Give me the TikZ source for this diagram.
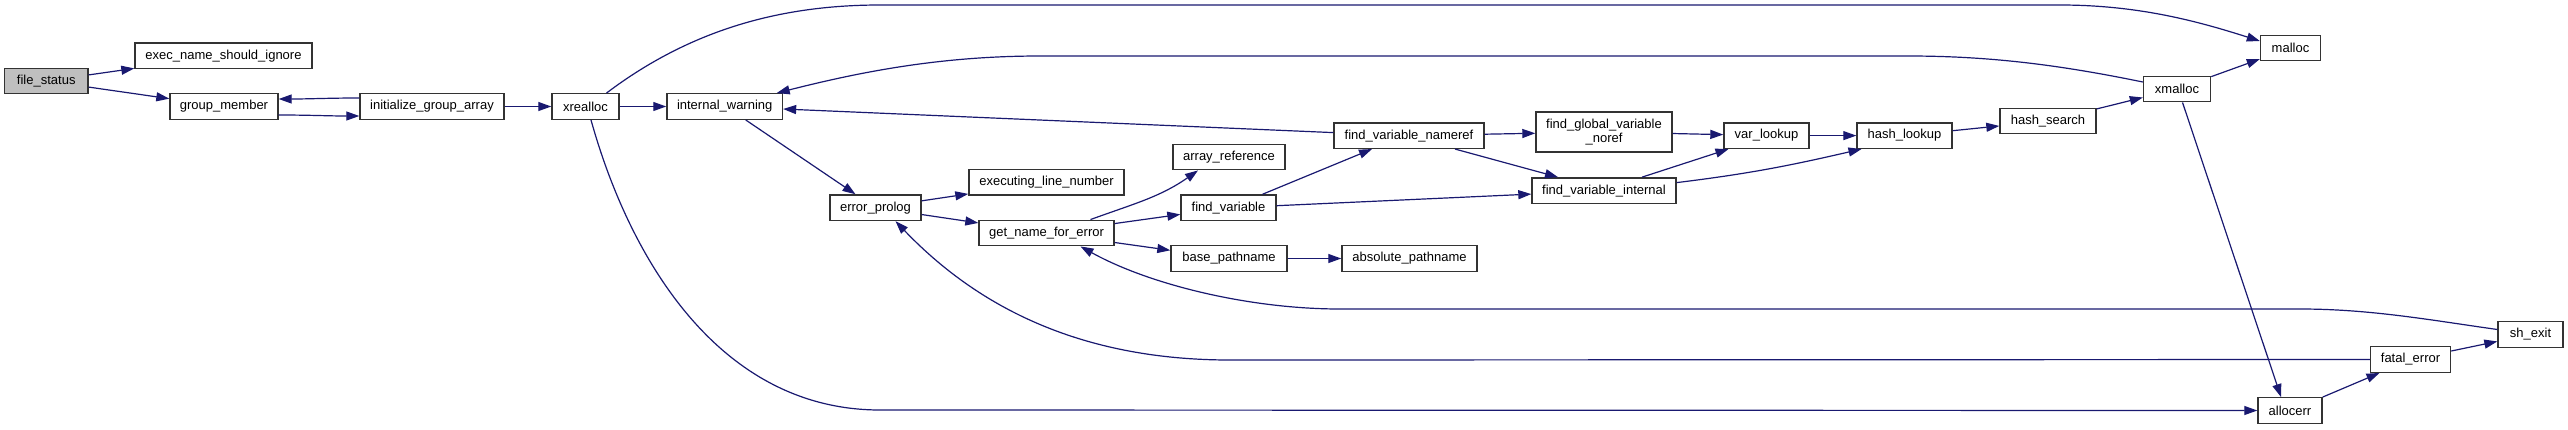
\documentclass[tikz,border=0pt]{standalone}
\usepackage{fontspec}
\setmainfont{Liberation Sans}
\usepackage{tikz}
\usetikzlibrary{arrows.meta, positioning, calc}
\definecolor{edgeblue}{HTML}{191970}
\definecolor{rootgray}{HTML}{BFBFBF}

\begin{document}
\begin{tikzpicture}[x=1pt, y=-1pt,
    fn/.style={draw=black!80, fill=white, line width=1.4pt,
               minimum height=25.5pt, inner sep=0pt,
               font=\fontsize{13}{14}\selectfont, align=center},
    call/.style={draw=edgeblue, line width=1.2pt,
                 -{Triangle[length=13pt, width=9pt]}}]
    \useasboundingbox (0,0) rectangle (2568,429);
    % functions
    \node[fn, fill=rootgray, minimum width=83.5pt] (filestatus) at (46.25,81) {file\_status};
    \node[fn, minimum width=177pt] (execname) at (223.5,55.7) {exec\_name\_should\_ignore};
    \node[fn, minimum width=108pt] (groupmember) at (224,106.5) {group\_member};
    \node[fn, minimum width=144pt] (initgroup) at (432,106.5) {initialize\_group\_array};
    \node[fn, minimum width=67pt] (xrealloc) at (585.5,106.5) {xrealloc};
    \node[fn, minimum width=115.5pt] (intwarn) at (724.7,106.5) {internal\_warning};
    \node[fn, minimum width=91pt] (errprolog) at (875.5,207.7) {error\_prolog};
    \node[fn, minimum width=155pt] (execline) at (1046.5,182.3) {executing\_line\_number};
    \node[fn, minimum width=135pt] (getname) at (1046.5,233) {get\_name\_for\_error};
    \node[fn, minimum width=112pt] (arrayref) at (1229,157) {array\_reference};
    \node[fn, minimum width=95pt] (findvar) at (1228.5,207.7) {find\_variable};
    \node[fn, minimum width=116pt] (basepath) at (1229,258.5) {base\_pathname};
    \node[fn, minimum width=135pt] (abspath) at (1409.5,258.5) {absolute\_pathname};
    \node[fn, minimum width=150pt] (findnameref) at (1409,135.6) {find\_variable\_nameref};
    \node[fn, minimum width=136pt, minimum height=40pt] (findglobal) at (1604,132) {find\_global\_variable\\\_noref};
    \node[fn, minimum width=144pt] (findinternal) at (1604,190.6) {find\_variable\_internal};
    \node[fn, minimum width=85pt] (varlookup) at (1766.5,135.6) {var\_lookup};
    \node[fn, minimum width=95pt] (hashlookup) at (1904.5,135.6) {hash\_lookup};
    \node[fn, minimum width=96pt] (hashsearch) at (2048,121) {hash\_search};
    \node[fn, minimum width=67pt] (xmalloc) at (2177,89) {xmalloc};
    \node[fn, minimum width=60pt] (malloc) at (2290.5,48) {malloc};
    \node[fn, minimum width=65pt] (shexit) at (2530.5,334.5) {sh\_exit};
    \node[fn, minimum width=80pt] (fatalerr) at (2410.5,359.5) {fatal\_error};
    \node[fn, minimum width=64pt] (allocerr) at (2290,410.5) {allocerr};
    % calls
    \draw[call] (filestatus) -- (execname);
    \draw[call] (filestatus) -- (groupmember);
    \draw[call] ([yshift=-8.5pt]groupmember.east) to[out=0, in=180] ([yshift=-9.5pt]initgroup.west);
    \draw[call] ([yshift=8.5pt]initgroup.west) to[out=180, in=0] ([yshift=7.5pt]groupmember.east);
    \draw[call] (initgroup) -- (xrealloc);
    \draw[call] (xrealloc) -- (intwarn);
    \draw[call] ([xshift=21pt]xrealloc.north) .. controls (690,30) and (780,5) .. (880,5)
        -- (2060,5) .. controls (2140,5) and (2200,22) .. ([yshift=7pt]malloc.west);
    \draw[call] ([xshift=5.5pt]xrealloc.south) .. controls (630,260) and (720,410) .. (880,410)
        -- (allocerr.west);
    \draw[call] ([xshift=21pt]intwarn.south) -- ([xshift=-20pt]errprolog.north);
    \draw[call] (errprolog) -- (execline);
    \draw[call] (errprolog) -- (getname);
    \draw[call] ([xshift=44pt]getname.north) to[out=20, in=-145] ([xshift=-31pt]arrayref.south);
    \draw[call] (getname) -- (findvar);
    \draw[call] (getname) -- (basepath);
    \draw[call] (basepath) -- (abspath);
    \draw[call] ([xshift=34pt]findvar.north) -- ([xshift=-37pt]findnameref.south);
    \draw[call] ([yshift=2pt]findvar.east) -- ([yshift=-3.5pt]findinternal.west);
    \draw[call] ([yshift=3pt]findnameref.west) -- ([yshift=-2.5pt]intwarn.east);
    \draw[call] (findnameref) -- (findglobal);
    \draw[call] ([xshift=46pt]findnameref.south) -- ([xshift=-46pt]findinternal.north);
    \draw[call] (findglobal) -- (varlookup);
    \draw[call] ([xshift=38pt]findinternal.north) -- ([xshift=-38pt]varlookup.south);
    \draw[call] ([yshift=8pt]findinternal.east) to[out=7, in=-167] ([xshift=-43pt]hashlookup.south);
    \draw[call] (varlookup) -- (hashlookup);
    \draw[call] (hashlookup) -- (hashsearch);
    \draw[call] (hashsearch) -- (xmalloc);
    \draw[call] (xmalloc) -- (malloc);
    \draw[call] ([yshift=7pt]xmalloc.west) .. controls (2060,65) and (1990,56) .. (1908,56)
        -- (1040,56) .. controls (940,56) and (860,72) .. ([xshift=52pt]intwarn.north);
    \draw[call] ([xshift=5.5pt]xmalloc.south) -- ([xshift=-9pt]allocerr.north);
    \draw[call] (allocerr.north east) -- ([xshift=-31pt]fatalerr.south);
    \draw[call] (fatalerr) -- (shexit);
    \draw[call] (fatalerr.west) -- (1230,360) .. controls (1100,360) and (990,320) .. ([xshift=20pt]errprolog.south);
    \draw[call] ([yshift=5pt]shexit.west) .. controls (2430,320) and (2370,309) .. (2300,309)
        -- (1340,309) .. controls (1250,309) and (1150,285) .. ([xshift=34pt]getname.south);
\end{tikzpicture}
\end{document}
